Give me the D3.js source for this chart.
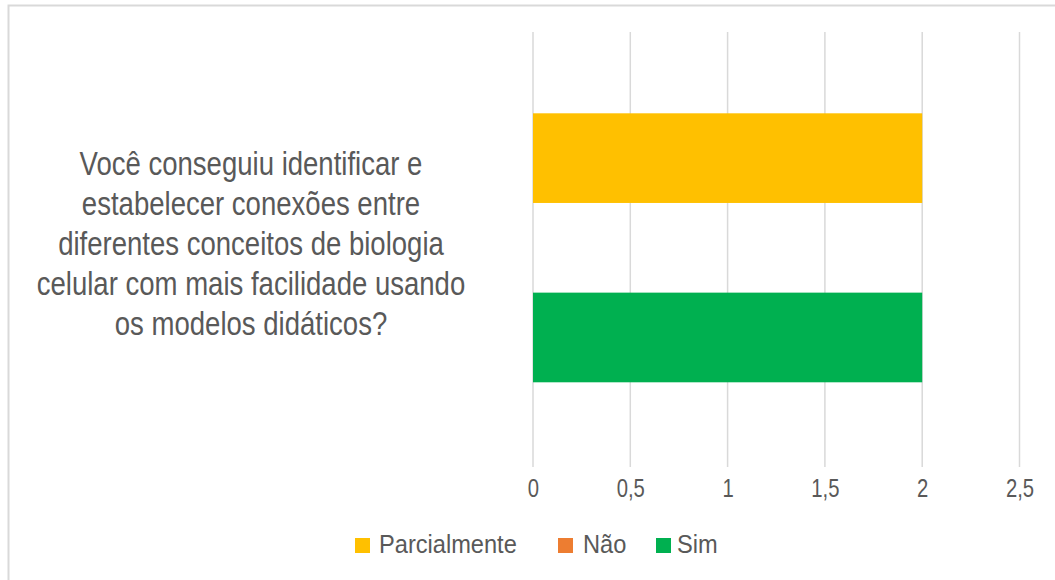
<!DOCTYPE html>
<html><head><meta charset="utf-8">
<script src="https://cdn.jsdelivr.net/npm/d3@7"></script>
<style>
html,body{margin:0;padding:0;background:#fff;}
svg{display:block;}
text{font-family:"Liberation Sans",Arial,sans-serif;fill:#595959;}
</style></head>
<body>
<svg id="c" width="1055" height="580"></svg>
<script>
const categoryLines = ["Você conseguiu identificar e","estabelecer conexões entre","diferentes conceitos de biologia","celular com mais facilidade usando","os modelos didáticos?"];
const seriesNames = ["Parcialmente","Não","Sim"];
const seriesValues = [2, 0, 2];
const seriesColors = ["#FFC000","#ED7D31","#00B050"];
const tickValues = [0,0.5,1,1.5,2,2.5];

const svg = d3.select("#c");
// chart border
svg.append("path").attr("d","M8.5,580 L8.5,5.5 L1055,5.5").attr("fill","none").attr("stroke","#d9d9d9").attr("stroke-width",2);

const x = d3.scaleLinear().domain([0,2.5]).range([533,1019.5]);
const plotTop = 32, plotBottom = 467;
const y = d3.scaleBand().domain(seriesNames).range([113.3,382.3]).paddingInner(0);

// gridlines
svg.append("g").selectAll("line").data(tickValues).join("line")
  .attr("x1",d=>x(d)).attr("x2",d=>x(d)).attr("y1",plotTop).attr("y2",plotBottom)
  .attr("stroke","#d9d9d9").attr("stroke-width",1.5);

// axis labels
const fmt = d => d3.format("")(d).replace(".",",");
const axis = d3.axisBottom(x).tickValues(tickValues).tickFormat(fmt).tickSize(0).tickPadding(0);
const ag = svg.append("g").attr("transform",`translate(0,497)`).call(axis);
ag.select(".domain").remove();
ag.selectAll("text").attr("font-size",26).attr("fill","#595959").attr("dy",0).attr("y",0)
  .attr("transform","scale(0.78,1)")
  .style("font-family",'"Liberation Sans",Arial,sans-serif');

// bars
svg.append("g").selectAll("rect").data(seriesNames).join("rect")
  .attr("x",x(0)).attr("y",d=>y(d)).attr("height",y.bandwidth())
  .attr("width",(d,i)=>x(seriesValues[i])-x(0))
  .attr("fill",(d,i)=>seriesColors[i]);

// category label
const lab = svg.append("g").attr("transform","translate(251,0) scale(0.835,1)")
  .append("text").attr("text-anchor","middle").attr("font-size",33);
categoryLines.forEach((l,i)=>{
  lab.append("tspan").attr("x",0).attr("y",175+i*40).text(l);
});

// legend
const legSq = [355,558,656];
const legTx = [379,583,677];
const lg = svg.append("g").selectAll("g").data(seriesNames).join("g");
lg.append("rect").attr("x",(d,i)=>legSq[i]).attr("y",538).attr("width",15).attr("height",15).attr("fill",(d,i)=>seriesColors[i]);
lg.append("g").attr("transform",(d,i)=>`translate(${legTx[i]},553) scale(0.945,1)`)
  .append("text").attr("font-size",25).text(d=>d);
</script>
</body></html>
